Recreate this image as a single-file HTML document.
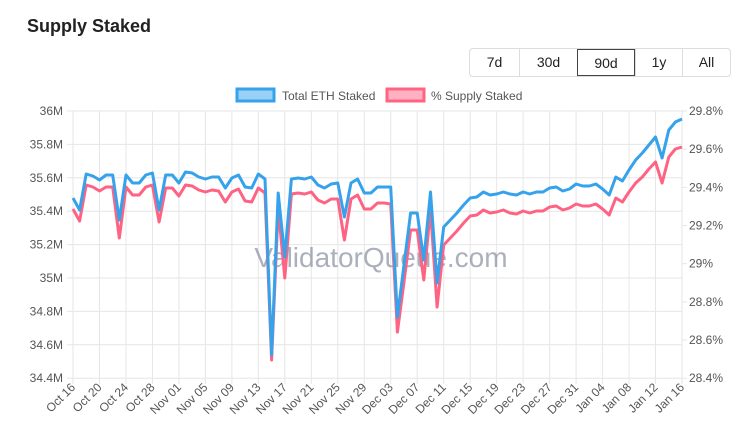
<!DOCTYPE html>
<html><head><meta charset="utf-8">
<style>
body{margin:0;background:#fff;width:750px;height:444px;overflow:hidden;font-family:"Liberation Sans",sans-serif;}
.t{position:absolute;left:27px;top:16px;font-size:18px;font-weight:bold;color:#222;}
.bg{position:absolute;left:469px;top:48px;height:27px;display:flex;border:1px solid #ddd;border-radius:4px;}
.bg div{height:27px;line-height:27px;text-align:center;font-size:14px;color:#222;border-left:1px solid #ddd;box-sizing:border-box;}
.bg div:first-child{border-left:none}
.bg .a{border:1.5px solid #444;}
</style></head><body>
<div class="t">Supply Staked</div>
<div class="bg"><div style="width:49px">7d</div><div style="width:58px">30d</div><div class="a" style="width:58px">90d</div><div style="width:47px">1y</div><div style="width:48px">All</div></div>
<svg id="s" width="750" height="444" style="position:absolute;left:0;top:0" font-family="Liberation Sans, sans-serif"></svg>
<script>
var b=[198,210,174,176,180,175,175,220,175,183,183,175,173,210,175,175,183,172,173,177,179,177,177,188,178,175,187,188,174,179,355,193,257,179,178,179,
177,185,188,184,183,217,183,179,193,193,187,187,187,317,265,213,213,260,192,283,227,220,213,205,198,197,192,195,194,
192,194,195,192,194,192,192,188,187,191,189,184,186,186,184,189,195,177,181,170,160,153,145,137,158,130,122,119];
var ov={7:238,13:222,30:360,32:278,41:240,49:332,53:280,55:307,89:183};
function d(i){if(i<=35)return 11+4*i/35;if(i<=60)return 15+3*(i-35)/25;if(i<=81)return 18+2*(i-60)/21;return 20+8*(i-81)/11;}
var x0=73,x1=682,dx=(x1-x0)/92,y0=111,yst=33.4;
var h='';
for(var k=0;k<=8;k++){var y=y0+k*yst;h+='<line x1="67" x2="'+x1+'" y1="'+y+'" y2="'+y+'" stroke="#e6e6e6"/>';
h+='<text x="63" y="'+(y+4)+'" font-size="12" fill="#555" text-anchor="end">'+(36-0.2*k).toFixed(1).replace('.0','')+'M</text>';}
var rs=(8*yst)/7;
for(var k=0;k<=7;k++){var y=y0+k*rs;var p=(29.8-0.2*k).toFixed(1);if(p.endsWith('.0'))p=p.slice(0,-2);
h+='<line x1="'+x1+'" x2="'+(x1+5)+'" y1="'+y+'" y2="'+y+'" stroke="#e6e6e6"/>';
h+='<text x="689" y="'+(y+4)+'" font-size="12" fill="#555">'+p+'%</text>';}
var lab=['Oct 16','Oct 20','Oct 24','Oct 28','Nov 01','Nov 05','Nov 09','Nov 13','Nov 17','Nov 21','Nov 25','Nov 29','Dec 03','Dec 07','Dec 11','Dec 15','Dec 19','Dec 23','Dec 27','Dec 31','Jan 04','Jan 08','Jan 12','Jan 16'];
for(var k=0;k<24;k++){var x=x0+k*4*dx;h+='<line x1="'+x+'" x2="'+x+'" y1="'+y0+'" y2="384" stroke="#e6e6e6"/>';
h+='<text transform="translate('+(x+3)+',388) rotate(-45)" font-size="12" fill="#555" text-anchor="end">'+lab[k]+'</text>';}
h+='<text x="381" y="267" font-size="28" fill="#8a8fa0" opacity="0.7" text-anchor="middle">ValidatorQueue.com</text>';
var pb='',pr='';
for(var i=0;i<b.length;i++){var x=(x0+i*dx).toFixed(1);pb+=(i?'L':'M')+x+' '+b[i];var r=ov[i]||Math.round(b[i]+d(i));pr+=(i?'L':'M')+x+' '+r;}
h+='<path d="'+pr+'" fill="none" stroke="#ff6384" stroke-width="3" stroke-linejoin="round"/>';
h+='<path d="'+pb+'" fill="none" stroke="#36a2eb" stroke-width="3" stroke-linejoin="round"/>';
h+='<rect x="237" y="89" width="37" height="12" fill="rgba(54,162,235,0.5)" stroke="#36a2eb" stroke-width="3"/>';
h+='<text x="282" y="100" font-size="12" fill="#555">Total ETH Staked</text>';
h+='<rect x="387" y="89" width="37" height="12" fill="rgba(255,99,132,0.5)" stroke="#ff6384" stroke-width="3"/>';
h+='<text x="431" y="100" font-size="12" fill="#555">% Supply Staked</text>';
document.getElementById('s').innerHTML=h;
</script>
</body></html>
